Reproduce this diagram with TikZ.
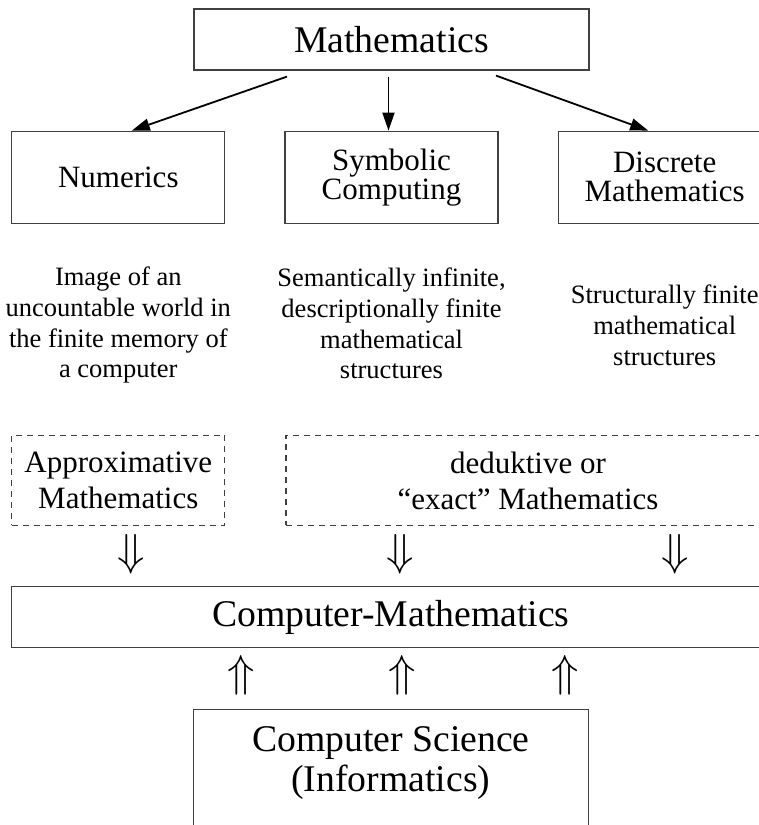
\documentclass[tikz,border=0pt]{standalone}
\usepackage{fontspec}
\setmainfont{Liberation Serif}
\usetikzlibrary{arrows.meta,positioning}

\begin{document}
\begin{tikzpicture}[
  box/.style={draw=black!75,line width=1.2pt,inner sep=0pt,align=center},
  wide/.style={box,minimum width=395pt,minimum height=61pt,font=\fontsize{37.7}{39.5}\selectfont},
  field/.style={box,minimum width=213pt,minimum height=92pt,font=\fontsize{31}{29}\selectfont},
  kind/.style={box,dashed,dash pattern=on 6pt off 5pt,minimum height=90pt,font=\fontsize{31}{36}\selectfont},
  note/.style={inner sep=0pt,align=center,font=\fontsize{26.5}{30.7}\selectfont},
  dbl/.style={inner sep=0pt,font=\fontsize{24.88}{25}\selectfont},
  arr/.style={-{Triangle[length=18pt,width=12pt]},line width=1.8pt}]
  \useasboundingbox (0,0) rectangle (759pt,-825pt);
  \node[wide] (math) at (391.5pt,-39.5pt) {Mathematics};
  \node[field,below=60pt of math] (sym) {Symbolic\\Computing};
  \node[field,left=59pt of sym] (num) {Numerics};
  \node[field,right=59pt of sym] (disc) {Discrete\\Mathematics};
  \node[note,below=43pt of num] (numtxt) {Image of an\\uncountable world in\\the finite memory of\\a computer};
  \node[note,below=44pt of sym] (symtxt) {Semantically infinite,\\descriptionally finite\\mathematical\\structures};
  \node[note,below=61pt of disc] (disctxt) {Structurally finite\\mathematical\\structures};
  \node[kind,minimum width=213pt,below=211pt of num] (approx) {Approximative\\Mathematics};
  \node[kind,minimum width=484pt,right=60pt of approx] (exact) {deduktive or\\“exact” Mathematics};
  \node[wide,minimum width=758pt,anchor=north west] (cm) at ([yshift=-60pt]approx.south west) {Computer-Mathematics};
  \node[wide,below=61pt of cm,inner ysep=17pt,text depth=40pt] (cs) {Computer Science\\(Informatics)};
  \draw[arr] ([xshift=-104.5pt,yshift=-6pt]math.south) -- ([xshift=13.5pt]num.north);
  \draw[arr] ([xshift=-3pt,yshift=-6pt]math.south) -- ([xshift=-3pt]sym.north);
  \draw[arr] ([xshift=104.5pt,yshift=-5pt]math.south) -- ([xshift=-16.5pt]disc.north);
  % implications between the layers
  \node[dbl] (d1) at (131pt,-554pt) {\scalebox{1.8}{$\Downarrow$}};
  \node[dbl] (d2) at (400pt,-554pt) {\scalebox{1.8}{$\Downarrow$}};
  \node[dbl] (d3) at (675pt,-554pt) {\scalebox{1.8}{$\Downarrow$}};
  \node[dbl] (u1) at (241pt,-675pt) {\scalebox{1.8}{$\Uparrow$}};
  \node[dbl] (u2) at (402pt,-675pt) {\scalebox{1.8}{$\Uparrow$}};
  \node[dbl] (u3) at (565pt,-675pt) {\scalebox{1.8}{$\Uparrow$}};
\end{tikzpicture}
\end{document}
